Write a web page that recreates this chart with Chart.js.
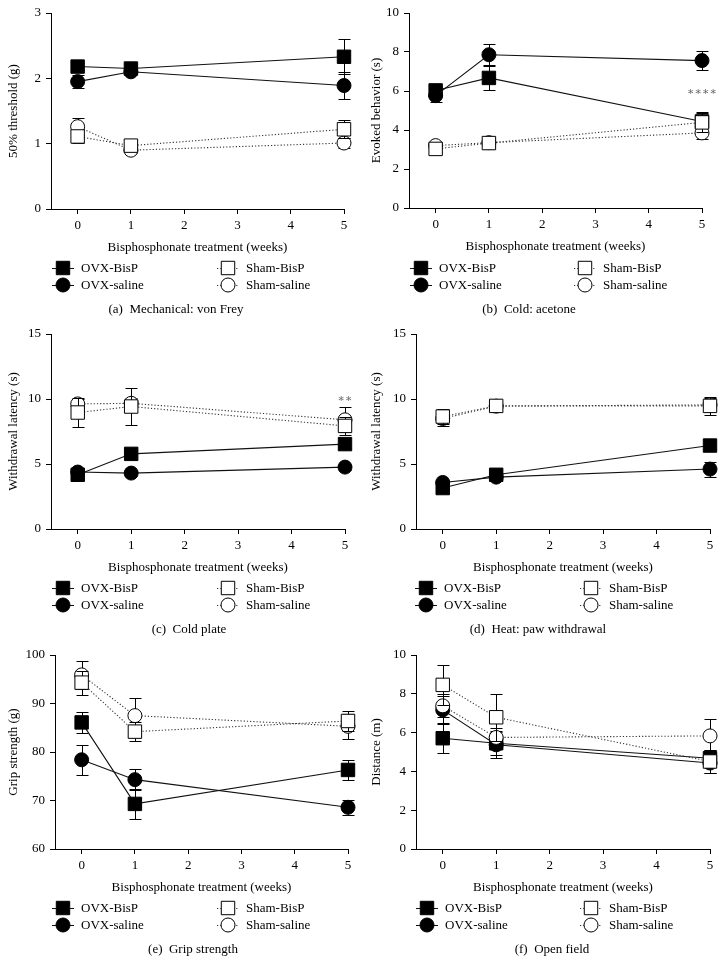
<!DOCTYPE html>
<html><head><meta charset="utf-8">
<script src="https://cdn.jsdelivr.net/npm/chart.js@4.4.0/dist/chart.umd.min.js"></script>
<style>
html,body{margin:0;padding:0;background:#fff;}
body{width:726px;height:977px;position:relative;overflow:hidden;}
canvas{position:absolute;display:block;}
</style></head><body>
<canvas id="cA" width="363" height="320" style="left:0;top:0"></canvas>
<canvas id="cB" width="363" height="320" style="left:363px;top:0"></canvas>
<canvas id="cC" width="363" height="320" style="left:0;top:320px"></canvas>
<canvas id="cD" width="363" height="320" style="left:363px;top:320px"></canvas>
<canvas id="cE" width="363" height="337" style="left:0;top:640px"></canvas>
<canvas id="cF" width="363" height="337" style="left:363px;top:640px"></canvas>
<script>
// ---- shared categories ----
const weeks = [0, 1, 5];
const xTickValues = [0, 1, 2, 3, 4, 5];
const seriesLabels = ['OVX-BisP', 'OVX-saline', 'Sham-BisP', 'Sham-saline'];
const xTitle = 'Bisphosphonate treatment (weeks)';

// ---- (a) Mechanical: von Frey ----
const vfTicks = [0, 1, 2, 3];
const vfOvxBisP = [2.18, 2.15, 2.33];
const vfOvxBisPErr = [0.05, 0.05, 0.27];
const vfOvxSaline = [1.95, 2.10, 1.89];
const vfOvxSalineErr = [0.10, 0.04, 0.20];
const vfShamBisP = [1.11, 0.97, 1.22];
const vfShamBisPErr = [0.10, 0.05, 0.14];
const vfShamSaline = [1.26, 0.90, 1.01];
const vfShamSalineErr = [0.13, 0.05, 0.08];

// ---- (b) Cold: acetone ----
const acTicks = [0, 2, 4, 6, 8, 10];
const acOvxBisP = [6.03, 6.67, 4.44];
const acOvxBisPErr = [0.2, 0.6, 0.5];
const acOvxSaline = [5.76, 7.86, 7.56];
const acOvxSalineErr = [0.3, 0.55, 0.48];
const acShamBisP = [3.03, 3.33, 4.39];
const acShamBisPErr = [0.15, 0.2, 0.5];
const acShamSaline = [3.2, 3.35, 3.85];
const acShamSalineErr = [0.15, 0.15, 0.3];

// ---- (c) Cold plate ----
const cpTicks = [0, 5, 10, 15];
const cpOvxBisP = [4.17, 5.78, 6.53];
const cpOvxBisPErr = [0.2, 0.2, 0.3];
const cpOvxSaline = [4.38, 4.30, 4.76];
const cpOvxSalineErr = [0.2, 0.2, 0.2];
const cpShamBisP = [8.96, 9.42, 7.93];
const cpShamBisPErr = [1.08, 1.4, 0.7];
const cpShamSaline = [9.62, 9.67, 8.4];
const cpShamSalineErr = [0.35, 0.4, 0.95];

// ---- (d) Heat: paw withdrawal ----
const htTicks = [0, 5, 10, 15];
const htOvxBisP = [3.15, 4.17, 6.42];
const htOvxBisPErr = [0.2, 0.2, 0.3];
const htOvxSaline = [3.58, 3.99, 4.61];
const htOvxSalineErr = [0.2, 0.2, 0.58];
const htShamBisP = [8.65, 9.47, 9.47];
const htShamBisPErr = [0.55, 0.3, 0.7];
const htShamSaline = [8.5, 9.45, 9.55];
const htShamSalineErr = [0.6, 0.2, 0.5];

// ---- (e) Grip strength ----
const gsTicks = [60, 70, 80, 90, 100];
const gsOvxBisP = [86.1, 69.3, 76.3];
const gsOvxBisPErr = [2.2, 3.1, 2.0];
const gsOvxSaline = [78.4, 74.3, 68.6];
const gsOvxSalineErr = [3.1, 2.2, 1.5];
const gsShamBisP = [94.3, 84.2, 86.4];
const gsShamBisPErr = [2.5, 2.0, 2.0];
const gsShamSaline = [95.9, 87.5, 85.3];
const gsShamSalineErr = [2.9, 3.7, 2.6];

// ---- (f) Open field ----
const ofTicks = [0, 2, 4, 6, 8, 10];
const ofOvxBisP = [5.71, 5.45, 4.68];
const ofOvxBisPErr = [0.75, 0.6, 0.4];
const ofOvxSaline = [7.17, 5.37, 4.43];
const ofOvxSalineErr = [0.7, 0.7, 0.5];
const ofShamBisP = [8.46, 6.79, 4.51];
const ofShamBisPErr = [1.05, 1.2, 0.6];
const ofShamSaline = [7.38, 5.75, 5.83];
const ofShamSalineErr = [0.6, 0.5, 0.88];

const FONT = "'Liberation Serif', 'DejaVu Serif', serif";

const seriesStyles = [
  {pointStyle: 'rect', pointRadius: 9.5, fill: '#000', line: '#111', dash: [], order: 4},
  {pointStyle: 'circle', pointRadius: 7, fill: '#000', line: '#111', dash: [], order: 3},
  {pointStyle: 'rect', pointRadius: 9.5, fill: '#fff', line: '#333', dash: [1.2, 2], order: 1},
  {pointStyle: 'circle', pointRadius: 7, fill: '#fff', line: '#333', dash: [1.2, 2], order: 2}
];

const errorBarPlugin = {
  id: 'errorBars',
  beforeDatasetDraw(chart, args) {
    const ds = chart.data.datasets[args.index];
    if (!ds.errors) return;
    const ys = chart.scales.y;
    const ctx = chart.ctx;
    ctx.save();
    ctx.strokeStyle = '#000';
    ctx.lineWidth = 1;
    args.meta.data.forEach((pt, j) => {
      const e = ds.errors[j];
      if (!e) return;
      const v = ds.data[j].y;
      const x = Math.round(pt.x) + 0.5;
      const y1 = Math.round(ys.getPixelForValue(v + e)) + 0.5;
      const y2 = Math.round(ys.getPixelForValue(v - e)) + 0.5;
      ctx.beginPath();
      ctx.moveTo(x, y1); ctx.lineTo(x, y2);
      ctx.moveTo(x - 6, y1); ctx.lineTo(x + 6, y1);
      ctx.moveTo(x - 6, y2); ctx.lineTo(x + 6, y2);
      ctx.stroke();
    });
    ctx.restore();
  }
};

const decorPlugin = {
  id: 'decor',
  afterDraw(chart, args, opts) {
    const ctx = chart.ctx;
    if (opts.note) {
      ctx.save();
      ctx.fillStyle = '#666';
      ctx.font = '11px ' + FONT;
      ctx.textAlign = 'center';
      ctx.textBaseline = 'middle';
      ctx.fillText(opts.note.text, chart.scales.x.getPixelForValue(opts.note.x), chart.scales.y.getPixelForValue(opts.note.y));
      ctx.restore();
    }
    const rows = [268, 285];
    chart.data.datasets.forEach((ds, i) => {
      const col = i < 2 ? 0 : 1, row = i % 2;
      const cx = opts.legendX[col], cy = rows[row];
      ctx.save();
      ctx.strokeStyle = ds.borderColor;
      ctx.lineWidth = 1;
      ctx.setLineDash(ds.borderDash || []);
      ctx.beginPath();
      ctx.moveTo(cx - 11, cy + 0.5); ctx.lineTo(cx + 11, cy + 0.5);
      ctx.stroke();
      ctx.setLineDash([]);
      ctx.fillStyle = ds.pointBackgroundColor;
      ctx.strokeStyle = '#000';
      Chart.helpers.drawPoint(ctx, {pointStyle: ds.pointStyle, radius: ds.pointRadius, borderWidth: 1, rotation: 0}, cx, cy);
      ctx.fillStyle = '#000';
      ctx.font = '13px ' + FONT;
      ctx.textAlign = 'left';
      ctx.textBaseline = 'middle';
      ctx.fillText(ds.label, cx + 18, cy + 1);
      ctx.restore();
    });
    ctx.save();
    ctx.fillStyle = '#000';
    ctx.font = '13px ' + FONT;
    ctx.textAlign = 'center';
    ctx.textBaseline = 'middle';
    ctx.fillText(opts.caption, opts.captionX, 310);
    ctx.restore();
  }
};

function makePanel(id, cfg) {
  const canvas = document.getElementById(id);
  const W = canvas.width, H = canvas.height;
  const xAxisH = 50;
  const datasets = cfg.series.map((s, i) => {
    const st = seriesStyles[i];
    return {
      label: seriesLabels[i],
      data: weeks.map((w, j) => ({x: w, y: s[0][j]})),
      errors: s[1],
      borderColor: st.line,
      borderWidth: 1.1,
      borderDash: st.dash,
      pointStyle: st.pointStyle,
      pointRadius: st.pointRadius,
      pointHoverRadius: st.pointRadius,
      pointBackgroundColor: st.fill,
      pointBorderColor: '#000',
      pointBorderWidth: 1,
      tension: 0,
      fill: false,
      order: st.order,
      clip: false
    };
  });
  return new Chart(canvas, {
    type: 'line',
    data: {datasets},
    options: {
      responsive: false,
      animation: false,
      events: [],
      layout: {padding: {left: 0, top: cfg.area.top, right: W - cfg.area.right, bottom: H - cfg.area.bottom - xAxisH}},
      plugins: {
        legend: {display: false},
        tooltip: {enabled: false},
        decor: {legendX: cfg.legendX, caption: cfg.caption, captionX: cfg.captionX, note: cfg.note}
      },
      scales: {
        x: {
          type: 'linear', min: -0.5, max: 5,
          afterBuildTicks: s => { s.ticks = xTickValues.map(v => ({value: v})); },
          afterFit: s => { s.height = xAxisH; },
          grid: {display: true, drawOnChartArea: false, drawTicks: true, tickLength: 5, color: '#000', lineWidth: 1},
          border: {display: true, color: '#000', width: 1},
          ticks: {color: '#000', font: {family: FONT, size: 13}, padding: 4, maxRotation: 0, autoSkip: false},
          title: {display: true, text: xTitle, color: '#000', font: {family: FONT, size: 13}, padding: {top: 0, bottom: 4}}
        },
        y: {
          type: 'linear', min: cfg.yTicks[0], max: cfg.yTicks[cfg.yTicks.length - 1],
          afterBuildTicks: s => { s.ticks = cfg.yTicks.map(v => ({value: v})); },
          afterFit: s => { s.width = cfg.area.left; },
          grid: {display: true, drawOnChartArea: false, drawTicks: true, tickLength: 5, color: '#000', lineWidth: 1},
          border: {display: true, color: '#000', width: 1},
          ticks: {color: '#000', font: {family: FONT, size: 13}, padding: 5, autoSkip: false},
          title: {display: true, text: cfg.yTitle, color: '#000', font: {family: FONT, size: 13}, padding: {top: 6, bottom: 0}}
        }
      }
    },
    plugins: [errorBarPlugin, decorPlugin]
  });
}

makePanel('cA', {
  area: {left: 51, right: 344, top: 13, bottom: 209},
  yTicks: vfTicks, yTitle: '50% threshold (g)',
  series: [[vfOvxBisP, vfOvxBisPErr], [vfOvxSaline, vfOvxSalineErr], [vfShamBisP, vfShamBisPErr], [vfShamSaline, vfShamSalineErr]],
  legendX: [63, 228], caption: '(a)  Mechanical: von Frey', captionX: 176
});
makePanel('cB', {
  area: {left: 46, right: 339, top: 13, bottom: 208},
  yTicks: acTicks, yTitle: 'Evoked behavior (s)',
  series: [[acOvxBisP, acOvxBisPErr], [acOvxSaline, acOvxSalineErr], [acShamBisP, acShamBisPErr], [acShamSaline, acShamSalineErr]],
  legendX: [58, 222], caption: '(b)  Cold: acetone', captionX: 166,
  note: {text: '∗∗∗∗', x: 5, y: 5.95}
});
makePanel('cC', {
  area: {left: 51, right: 345, top: 14, bottom: 209},
  yTicks: cpTicks, yTitle: 'Withdrawal latency (s)',
  series: [[cpOvxBisP, cpOvxBisPErr], [cpOvxSaline, cpOvxSalineErr], [cpShamBisP, cpShamBisPErr], [cpShamSaline, cpShamSalineErr]],
  legendX: [63, 228], caption: '(c)  Cold plate', captionX: 189,
  note: {text: '∗∗', x: 5, y: 10.0}
});
makePanel('cD', {
  area: {left: 53, right: 347, top: 14, bottom: 209},
  yTicks: htTicks, yTitle: 'Withdrawal latency (s)',
  series: [[htOvxBisP, htOvxBisPErr], [htOvxSaline, htOvxSalineErr], [htShamBisP, htShamBisPErr], [htShamSaline, htShamSalineErr]],
  legendX: [63, 228], caption: '(d)  Heat: paw withdrawal', captionX: 175
});
makePanel('cE', {
  area: {left: 55, right: 348, top: 15, bottom: 209},
  yTicks: gsTicks, yTitle: 'Grip strength (g)',
  series: [[gsOvxBisP, gsOvxBisPErr], [gsOvxSaline, gsOvxSalineErr], [gsShamBisP, gsShamBisPErr], [gsShamSaline, gsShamSalineErr]],
  legendX: [63, 228], caption: '(e)  Grip strength', captionX: 193
});
makePanel('cF', {
  area: {left: 53, right: 347, top: 15, bottom: 209},
  yTicks: ofTicks, yTitle: 'Distance (m)',
  series: [[ofOvxBisP, ofOvxBisPErr], [ofOvxSaline, ofOvxSalineErr], [ofShamBisP, ofShamBisPErr], [ofShamSaline, ofShamSalineErr]],
  legendX: [64, 228], caption: '(f)  Open field', captionX: 189
});
</script>
</body></html>
